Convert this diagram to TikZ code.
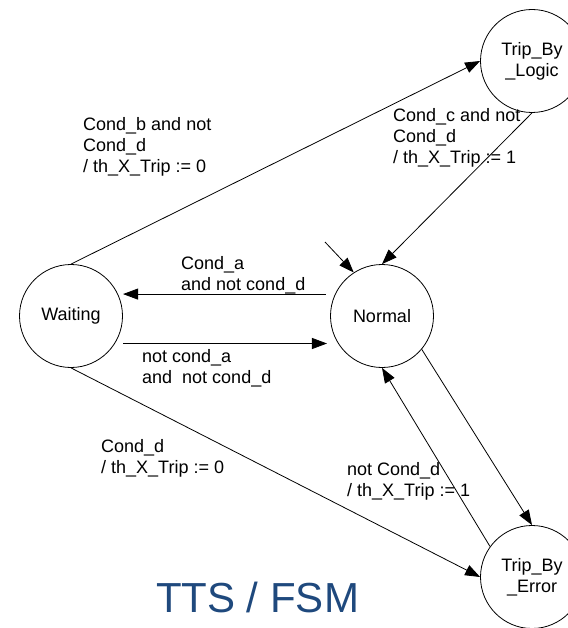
\documentclass[tikz,border=0pt]{standalone}
\usepackage{fontspec}
\setmainfont{Liberation Sans}
\usetikzlibrary{arrows.meta}
\definecolor{titleblue}{RGB}{31,73,125}
\begin{document}
\begin{tikzpicture}[x=1pt,y=-1pt,
  state/.style={draw,circle,minimum size=103pt,inner sep=0pt,line width=0.8pt,
    font=\fontsize{18}{21}\selectfont,align=center},
  lbl/.style={anchor=north west,inner sep=0pt,align=left,
    font=\fontsize{18}{21}\selectfont},
  tr/.style={line width=0.8pt,-{Triangle[length=15pt,width=11pt]}}]
\useasboundingbox (0,0) rectangle (567,628);
\node[state] (W) at (71,316) {Waiting};
\node[state] (N) at (382,316) {Normal};
\node[state] (L) at (532,61) {Trip\_By\\\_Logic};
\node[state] (E) at (532,577) {Trip\_By\\\_Error};
\coordinate (init) at (325,242);

\draw[tr] (W.north) -- (L.west);
\draw[tr] (L.south) -- (N.north);
\draw[tr] (init) -- (N.123);
\draw[tr,shorten <=9pt,shorten >=5pt] (N.155) -- (W.25);
\draw[tr,shorten <=8pt,shorten >=11pt] (W.-32.6) -- (N.212.6);
\draw[tr] (N.-40) -- (E.north);
\draw[tr] (E.144.5) -- (N.south);
\draw[tr] (W.south) -- (E.west);

\node[lbl] (l1) at (83,117) {Cond\_b and not\\Cond\_d\\/ th\_X\_Trip := 0};
\node[lbl] (l2) at (393,108) {Cond\_c and not\\Cond\_d\\/ th\_X\_Trip := 1};
\node[lbl] (l3) at (181,256) {Cond\_a\\and not cond\_d};
\node[lbl] (l4) at (142,349) {not cond\_a\\and\ \ not cond\_d};
\node[lbl] (l5) at (101,439) {Cond\_d\\/ th\_X\_Trip := 0};
\node[lbl] (l6) at (347,462) {not Cond\_d\\/ th\_X\_Trip := 1};
\node[text=titleblue,font=\fontsize{42}{50}\selectfont,inner sep=0pt] (title) at (257.5,597) {TTS / FSM};
\end{tikzpicture}
\end{document}
